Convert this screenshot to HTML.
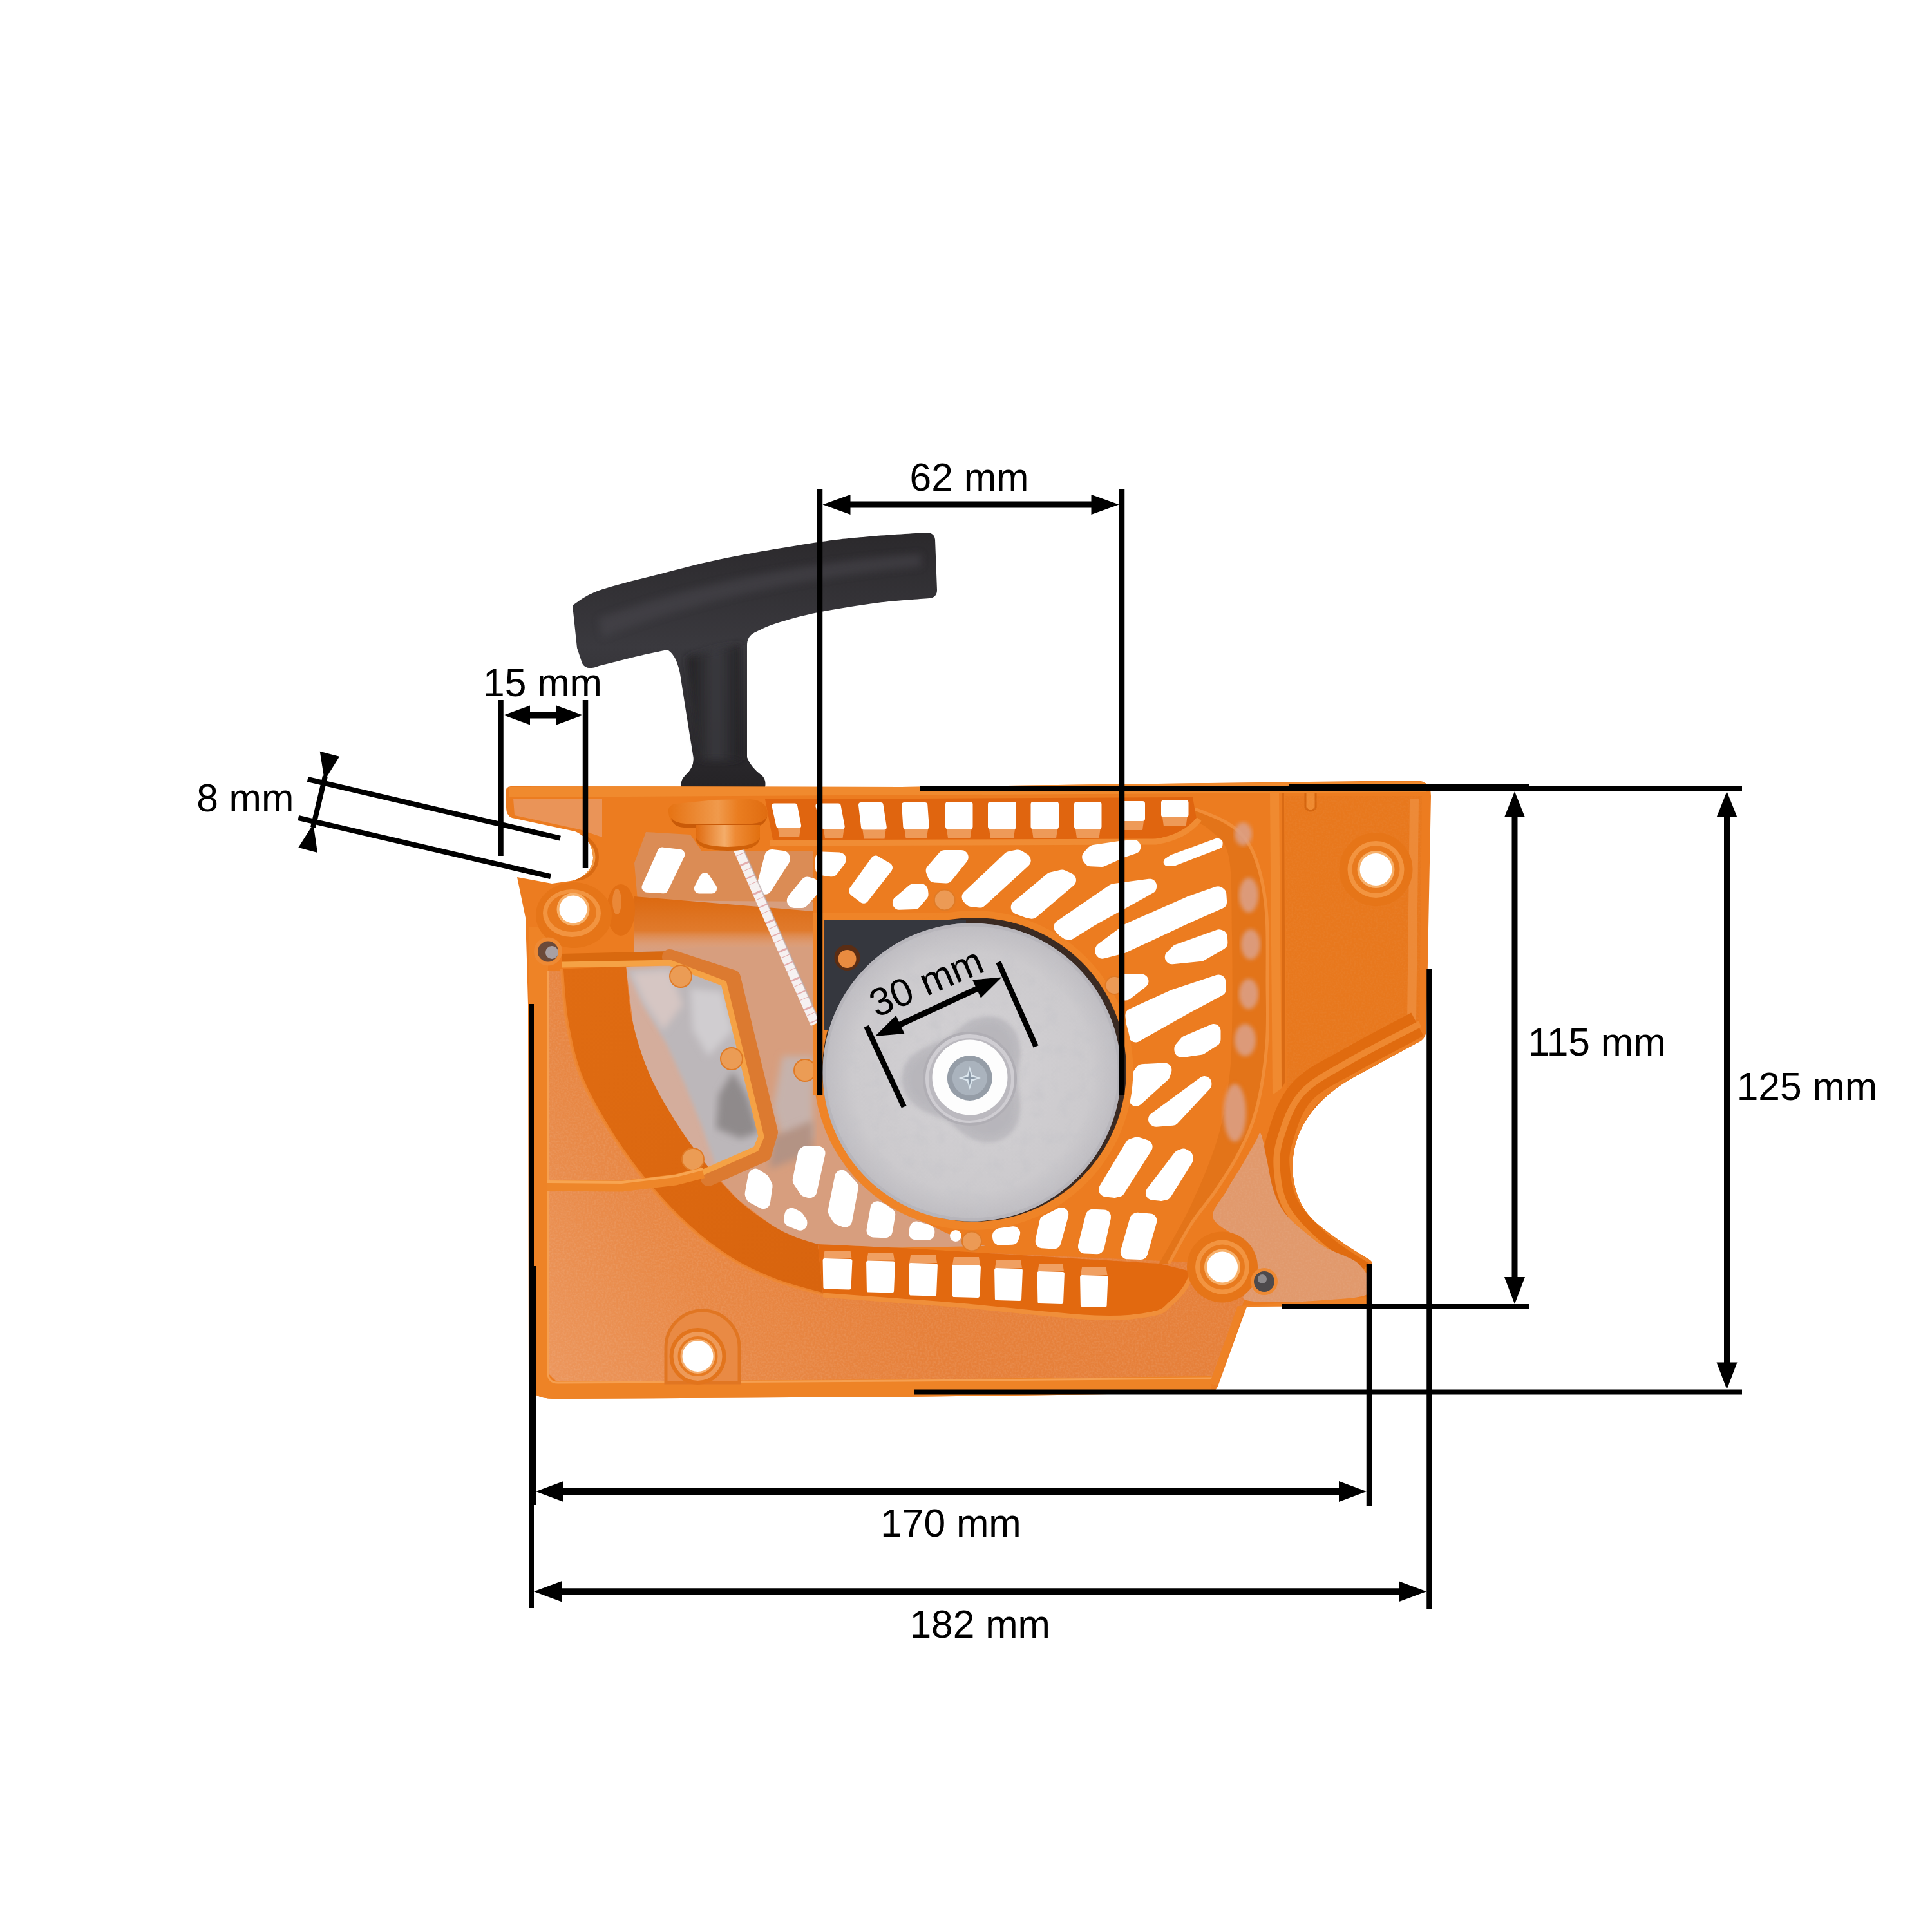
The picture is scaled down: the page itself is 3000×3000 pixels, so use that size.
<!DOCTYPE html>
<html><head><meta charset="utf-8"><title>Starter dimensions</title>
<style>html,body{margin:0;padding:0;background:#fff}svg{display:block}</style></head>
<body>
<svg width="3000" height="3000" viewBox="0 0 3000 3000">
<rect width="3000" height="3000" fill="#fff"/>
<defs>
<linearGradient id="gHandle" x1="0" y1="0" x2="0" y2="1"><stop offset="0" stop-color="#2b292c"/><stop offset="0.45" stop-color="#3a393e"/><stop offset="1" stop-color="#252326"/></linearGradient>
<linearGradient id="gStem" x1="0" y1="0" x2="1" y2="0"><stop offset="0" stop-color="#1f1e20"/><stop offset="0.55" stop-color="#3c3b40"/><stop offset="1" stop-color="#222124"/></linearGradient>
<radialGradient id="gDisc" cx="0.5" cy="0.5" r="0.5"><stop offset="0" stop-color="#d4d2d5"/><stop offset="0.8" stop-color="#cccacd"/><stop offset="1" stop-color="#bebcc1"/></radialGradient>
<linearGradient id="gBand" x1="0" y1="0" x2="1" y2="1"><stop offset="0" stop-color="#e06c12"/><stop offset="1" stop-color="#d8640e"/></linearGradient>
<linearGradient id="gTopBand" x1="0" y1="0" x2="0" y2="1"><stop offset="0" stop-color="#dc6910"/><stop offset="0.6" stop-color="#e07a2c"/><stop offset="1" stop-color="#e4ac8f" stop-opacity="0"/></linearGradient>
<filter id="fTex" x="0" y="0" width="100%" height="100%"><feTurbulence type="fractalNoise" baseFrequency="0.35" numOctaves="2" seed="3" result="n"/><feColorMatrix in="n" type="matrix" values="0 0 0 0 1  0 0 0 0 1  0 0 0 0 1  0.9 0 0 0 -0.32" result="a"/><feComposite in="a" in2="SourceGraphic" operator="in"/></filter>
<filter id="fTexD" x="0" y="0" width="100%" height="100%"><feTurbulence type="fractalNoise" baseFrequency="0.045" numOctaves="3" seed="8" result="n"/><feColorMatrix in="n" type="matrix" values="0 0 0 0 0.55  0 0 0 0 0.55  0 0 0 0 0.58  1.6 0 0 0 -0.75" result="a"/><feComposite in="a" in2="SourceGraphic" operator="in"/></filter>
<filter id="blur3"><feGaussianBlur stdDeviation="3"/></filter>
<filter id="blur6"><feGaussianBlur stdDeviation="6"/></filter>
<filter id="blur12"><feGaussianBlur stdDeviation="12"/></filter>
</defs>
<path d="M889,940 C895.8,936.2 906.5,925.3 930.0,917.0 C953.5,908.7 996.7,898.5 1030.0,890.0 C1063.3,881.5 1090.0,874.0 1130.0,866.0 C1170.0,858.0 1233.3,847.5 1270.0,842.0 C1306.7,836.5 1322.0,835.5 1350.0,833.0 C1378.0,830.5 1423.3,828.0 1438.0,827.0 Q1451,827 1452,838 L1455,916 Q1455,928 1443,929 C1429.7,930.2 1391.8,932.3 1363.0,936.0 C1334.2,939.7 1296.3,945.7 1270.0,951.0 C1243.7,956.3 1221.3,962.8 1205.0,968.0 C1188.7,973.2 1177.5,979.7 1172.0,982.0 Q1160,988 1160,1002 L1160,1176 Q1166,1192 1184,1205 Q1190,1212 1188,1222 L1058,1222 Q1056,1212 1064,1204 Q1080,1190 1076,1172 L1066,1110 L1056,1046 Q1050,1016 1036,1009 C1028.3,1010.7 1007.7,1014.8 990.0,1019.0 C972.3,1023.2 940.0,1031.5 930.0,1034.0 Q910,1042 904,1030 L896,1006 Z" fill="url(#gHandle)"/>
<path d="M1066,1020 L1150,1000 L1150,1180 L1086,1180 Z" fill="url(#gStem)" filter="url(#blur6)" opacity="0.9"/>
<path d="M930,960 Q1150,880 1430,860 L1430,880 Q1150,905 935,990 Z" fill="#48474d" opacity="0.55" filter="url(#blur6)"/>
<path id="sil" d="M793,1221 L1400,1222 L2198,1212 Q2222,1212 2222,1236 L2215,1598 Q2215,1612 2203,1618 L2107,1670 C2060,1695 2025,1730 2012,1775 C2000,1820 2010,1870 2045,1900 C2075,1925 2105,1943 2128,1957 L2131,1960 L2131,2027 L1936,2029 L1892,2150 Q1888,2163 1874,2163 L1404,2169 L860,2172 Q822,2172 821,2146 L820,1560 L818,1490 L816,1425 L803,1362 L857,1372 L886,1368 C905,1365 921,1350 921,1332 C921,1312 910,1298 893,1291 L795,1270 Q786,1266 786,1254 L785,1232 Q785,1221 793,1221 Z" fill="#ec7c20"/>
<clipPath id="cBody"><use href="#sil"/></clipPath>
<g clip-path="url(#cBody)">
<linearGradient id="gFloor" gradientUnits="userSpaceOnUse" x1="1300" y1="1850" x2="860" y2="2140"><stop offset="0" stop-color="#e6803a"/><stop offset="0.5" stop-color="#e88845"/><stop offset="1" stop-color="#ec965c"/></linearGradient>
<path d="M852.0,1508.0 L1000.0,1508.0 L1300.0,1935.0 L1850.0,1960.0 L1945.0,1985.0 L1924.0,2040.0 L1882.0,2140.0 L1404.0,2144.0 L866.0,2147.0 L852.0,2133.0 Z" fill="url(#gFloor)"/>
<path d="M797.0,1240.0 L935.0,1240.0 L935.0,1300.0 L900.0,1288.0 L799.0,1266.0 Z" fill="#ea9458"/>
<path d="M852.0,1508.0 L1000.0,1508.0 L1300.0,1935.0 L1850.0,1960.0 L1945.0,1985.0 L1924.0,2040.0 L1882.0,2140.0 L1404.0,2144.0 L866.0,2147.0 L852.0,2133.0 Z" fill="#fff" filter="url(#fTex)" opacity="0.22"/>
<path d="M1262.0,1395.0 L1262.0,1690.0 L1285.0,1700.0 L1300.0,1760.0 L1340.0,1830.0 L1400.0,1880.0 L1470.0,1915.0 L1530.0,1935.0 L1262.0,1940.0 L1250.0,1940.0 L1195.0,1900.0 L1145.0,1862.0 L1096.0,1807.0 L1052.0,1746.0 L1009.0,1669.0 L982.0,1585.0 L975.0,1450.0 L990.0,1395.0 Z" fill="#d79e7e"/>
<path d="M1003.0,1292.0 L1072.0,1296.0 L1090.0,1322.0 L1262.0,1322.0 L1262.0,1400.0 L990.0,1398.0 L985.0,1340.0 Z" fill="#db8c55"/>
<path d="M1040.0,1500.0 L1125.0,1528.0 L1182.0,1766.0 L1175.0,1783.0 L1092.0,1820.0 L1060.0,1800.0 L1043.0,1770.0 L1010.0,1680.0 L985.0,1605.0 L972.0,1501.0 Z" fill="#d4ad9c"/>
<path d="M974.0,1506.0 L1040.0,1502.0 L1125.0,1528.0 L1182.0,1766.0 L1175.0,1783.0 L1112.0,1812.0 L1089.0,1747.0 L1064.0,1685.0 L1036.0,1623.0 L999.0,1560.0 Z" fill="#bcb7ba" filter="url(#blur3)"/>
<path d="M980.0,1510.0 L1040.0,1506.0 L1060.0,1560.0 L1030.0,1600.0 L1000.0,1555.0 Z" fill="#d6c6c3" filter="url(#blur6)"/>
<path d="M1072.0,1535.0 L1122.0,1540.0 L1138.0,1600.0 L1100.0,1640.0 L1076.0,1600.0 Z" fill="#d0cdd0" filter="url(#blur6)"/>
<path d="M1138.0,1664.0 L1160.0,1700.0 L1178.0,1758.0 L1150.0,1768.0 L1112.0,1752.0 L1116.0,1700.0 Z" fill="#8f8a8b" filter="url(#blur6)"/>
<path d="M1215.0,1640.0 L1262.0,1640.0 L1262.0,1770.0 L1215.0,1770.0 L1200.0,1720.0 Z" fill="#c6b2ac" filter="url(#blur6)"/>
<path d="M1200.0,1765.0 L1262.0,1740.0 L1262.0,1790.0 L1195.0,1815.0 Z" fill="#b39384" filter="url(#blur6)"/>
<path d="M872.0,1500.0 C873.3,1514.2 875.2,1556.8 880.0,1585.0 C884.8,1613.2 890.2,1641.0 901.0,1669.0 C911.8,1697.0 928.2,1725.7 945.0,1753.0 C961.8,1780.3 981.3,1807.8 1002.0,1833.0 C1022.7,1858.2 1046.7,1883.7 1069.0,1904.0 C1091.3,1924.3 1113.5,1941.0 1136.0,1955.0 C1158.5,1969.0 1180.3,1978.8 1204.0,1988.0 C1227.7,1997.2 1265.7,2006.3 1278.0,2010.0 L1270,1932 C1263.8,1930.0 1245.5,1925.3 1233.0,1920.0 C1220.5,1914.7 1209.7,1909.7 1195.0,1900.0 C1180.3,1890.3 1161.5,1877.5 1145.0,1862.0 C1128.5,1846.5 1111.5,1826.3 1096.0,1807.0 C1080.5,1787.7 1066.5,1769.0 1052.0,1746.0 C1037.5,1723.0 1020.7,1695.8 1009.0,1669.0 C997.3,1642.2 988.2,1613.2 982.0,1585.0 C975.8,1556.8 973.7,1514.2 972.0,1500.0 Z" fill="url(#gBand)"/>
<path d="M872.0,1500.0 C873.3,1514.2 875.2,1556.8 880.0,1585.0 C884.8,1613.2 890.2,1641.0 901.0,1669.0 C911.8,1697.0 928.2,1725.7 945.0,1753.0 C961.8,1780.3 981.3,1807.8 1002.0,1833.0 C1022.7,1858.2 1046.7,1883.7 1069.0,1904.0 C1091.3,1924.3 1113.5,1941.0 1136.0,1955.0 C1158.5,1969.0 1180.3,1978.8 1204.0,1988.0 C1227.7,1997.2 1265.7,2006.3 1278.0,2010.0" fill="none" stroke="#ef8a34" stroke-width="5" opacity="0.8"/>
<path d="M985.0,1392.0 L1262.0,1415.0 L1262.0,1470.0 L1100.0,1470.0 L975.0,1480.0 Z" fill="url(#gTopBand)"/>
<path d="M838.0,1430.0 L985.0,1392.0 L985.0,1500.0 L838.0,1506.0 Z" fill="#ec7c20"/>
<path d="M872,1488 L1042,1484" fill="none" stroke="#d9690f" stroke-width="14"/>
<path d="M1040,1486 L1138,1518 L1196,1758 L1186,1792 L1100,1830" fill="none" stroke="#dc7a30" stroke-width="24" stroke-linejoin="round" stroke-linecap="round"/>
<path d="M872,1498 L1040,1495 L1124,1527 L1182,1765 L1174,1784 L1092,1820 L1049,1831" fill="none" stroke="#f5a245" stroke-width="9" stroke-linejoin="round"/>
<circle cx="1057" cy="1516" r="17" fill="#eb9c55" stroke="#e07a25" stroke-width="2"/>
<circle cx="1136" cy="1644" r="17" fill="#eb9c55" stroke="#e07a25" stroke-width="2"/>
<circle cx="1076" cy="1800" r="17" fill="#eb9c55" stroke="#e07a25" stroke-width="2"/>
<circle cx="1250" cy="1662" r="17" fill="#eb9c55" stroke="#e07a25" stroke-width="2"/>
<path d="M1847.0,1253.0 C1856.5,1257.0 1889.0,1268.0 1904.0,1277.0 C1919.0,1286.0 1928.2,1293.7 1937.0,1307.0 C1945.8,1320.3 1952.0,1337.7 1957.0,1357.0 C1962.0,1376.3 1965.2,1395.3 1967.0,1423.0 C1968.8,1450.7 1968.0,1489.7 1968.0,1523.0 C1968.0,1556.3 1969.8,1589.7 1967.0,1623.0 C1964.2,1656.3 1958.2,1695.2 1951.0,1723.0 C1943.8,1750.8 1934.7,1768.8 1924.0,1790.0 C1913.3,1811.2 1899.3,1831.7 1887.0,1850.0 C1874.7,1868.3 1862.0,1881.3 1850.0,1900.0 C1838.0,1918.7 1820.8,1951.7 1815.0,1962.0 L1800,1962  C1808.3,1946.7 1835.0,1902.0 1850.0,1870.0 C1865.0,1838.0 1880.3,1801.7 1890.0,1770.0 C1899.7,1738.3 1904.2,1708.3 1908.0,1680.0 C1911.8,1651.7 1912.2,1638.3 1913.0,1600.0 C1913.8,1561.7 1913.8,1495.0 1913.0,1450.0 C1912.2,1405.0 1913.5,1356.7 1908.0,1330.0 C1902.5,1303.3 1890.2,1300.0 1880.0,1290.0 C1869.8,1280.0 1852.5,1273.3 1847.0,1270.0 Z" fill="#e37419"/>
<path d="M1847.0,1253.0 C1856.5,1257.0 1889.0,1268.0 1904.0,1277.0 C1919.0,1286.0 1928.2,1293.7 1937.0,1307.0 C1945.8,1320.3 1952.0,1337.7 1957.0,1357.0 C1962.0,1376.3 1965.2,1395.3 1967.0,1423.0 C1968.8,1450.7 1968.0,1489.7 1968.0,1523.0 C1968.0,1556.3 1969.8,1589.7 1967.0,1623.0 C1964.2,1656.3 1958.2,1695.2 1951.0,1723.0 C1943.8,1750.8 1934.7,1768.8 1924.0,1790.0 C1913.3,1811.2 1899.3,1831.7 1887.0,1850.0 C1874.7,1868.3 1862.0,1881.3 1850.0,1900.0 C1838.0,1918.7 1820.8,1951.7 1815.0,1962.0" fill="none" stroke="#f08d38" stroke-width="5"/>
<ellipse cx="1930.5" cy="1295.0" rx="13.5" ry="18.0" fill="#dba18a" opacity="0.85" filter="url(#blur3)"/>
<ellipse cx="1939.0" cy="1390.0" rx="15.0" ry="27.0" fill="#dba18a" opacity="0.85" filter="url(#blur3)"/>
<ellipse cx="1942.0" cy="1466.5" rx="15.0" ry="23.5" fill="#dba18a" opacity="0.85" filter="url(#blur3)"/>
<ellipse cx="1939.0" cy="1543.5" rx="15.0" ry="23.5" fill="#dba18a" opacity="0.85" filter="url(#blur3)"/>
<ellipse cx="1933.5" cy="1615.0" rx="16.5" ry="25.0" fill="#dba18a" opacity="0.85" filter="url(#blur3)"/>
<ellipse cx="1917.5" cy="1728.0" rx="17.5" ry="45.0" fill="#dba18a" opacity="0.85" filter="url(#blur3)"/>
<path d="M1972,1232 L1986,1232 L1990,1690 L1976,1700 Z" fill="#f08a30"/>
<path d="M1990,1232 L1994,1232 L1996,1680 L1990,1690 Z" fill="#d96a14"/>
<path d="M1996.0,1236.0 L2208.0,1236.0 L2204.0,1600.0 L2100.0,1655.0 L2040.0,1690.0 L1998.0,1740.0 Z" fill="#e8781d"/>
<path d="M2027,1232 L2027,1254 Q2035,1264 2043,1254 L2043,1232" fill="#ef8a30" stroke="#d5650e" stroke-width="3"/>
<path d="M1996.0,1236.0 L2208.0,1236.0 L2204.0,1600.0 L2100.0,1655.0 L2040.0,1690.0 L1998.0,1740.0 Z" fill="#fff" filter="url(#fTex)" opacity="0.10"/>
<path d="M2196,1240 L2192,1590" stroke="#f09244" stroke-width="14" opacity="0.7"/>
<path d="M2213.0,1613.0 C2195.3,1622.5 2135.8,1653.3 2107.0,1670.0 C2078.2,1686.7 2055.8,1695.5 2040.0,1713.0 C2024.2,1730.5 2017.3,1758.0 2012.0,1775.0 C2006.7,1792.0 2006.3,1799.8 2008.0,1815.0 C2009.7,1830.2 2011.2,1848.5 2022.0,1866.0 C2032.8,1883.5 2055.3,1904.8 2073.0,1920.0 C2090.7,1935.2 2118.8,1950.8 2128.0,1957.0" fill="none" stroke="#e06b0f" stroke-width="92"/>
<path d="M2205.0,1590.0 C2187.0,1599.5 2127.5,1629.2 2097.0,1647.0 C2066.5,1664.8 2040.0,1677.3 2022.0,1697.0 C2004.0,1716.7 1995.5,1744.8 1989.0,1765.0 C1982.5,1785.2 1981.3,1799.2 1983.0,1818.0 C1984.7,1836.8 1987.0,1858.0 1999.0,1878.0 C2011.0,1898.0 2035.2,1921.7 2055.0,1938.0 C2074.8,1954.3 2107.5,1969.7 2118.0,1976.0" fill="none" stroke="#ee8830" stroke-width="10"/>
<path d="M2213.0,1613.0 C2195.3,1622.5 2135.8,1653.3 2107.0,1670.0 C2078.2,1686.7 2055.8,1695.5 2040.0,1713.0 C2024.2,1730.5 2017.3,1758.0 2012.0,1775.0 C2006.7,1792.0 2006.3,1799.8 2008.0,1815.0 C2009.7,1830.2 2011.2,1848.5 2022.0,1866.0 C2032.8,1883.5 2055.3,1904.8 2073.0,1920.0 C2090.7,1935.2 2118.8,1950.8 2128.0,1957.0" fill="none" stroke="#ec7f24" stroke-width="10"/>
<path d="M1958.0,1761.0 C1960.8,1765.7 1963.7,1785.2 1967.0,1800.0 C1970.3,1814.8 1973.0,1835.7 1978.0,1850.0 C1983.0,1864.3 1987.8,1874.5 1997.0,1886.0 C2006.2,1897.5 2022.5,1910.3 2033.0,1919.0 C2043.5,1927.7 2046.8,1930.3 2060.0,1938.0 C2073.2,1945.7 2102.3,1952.7 2112.0,1965.0 C2121.7,1977.3 2146.7,2002.8 2118.0,2012.0 C2089.3,2021.2 1967.7,2024.5 1940.0,2020.0 C1912.3,2015.5 1953.7,2000.0 1952.0,1985.0 C1950.3,1970.0 1941.3,1945.5 1930.0,1930.0 C1918.7,1914.5 1888.3,1905.3 1884.0,1892.0 C1879.7,1878.7 1896.3,1864.2 1904.0,1850.0 C1911.7,1835.8 1922.3,1820.0 1930.0,1807.0 C1937.7,1794.0 1945.3,1779.7 1950.0,1772.0 C1954.7,1764.3 1955.2,1756.3 1958.0,1761.0 Z" fill="#e1996c"/>
<path d="M1958.0,1761.0 C1960.8,1765.7 1963.7,1785.2 1967.0,1800.0 C1970.3,1814.8 1973.0,1835.7 1978.0,1850.0 C1983.0,1864.3 1987.8,1874.5 1997.0,1886.0 C2006.2,1897.5 2022.5,1910.3 2033.0,1919.0 C2043.5,1927.7 2046.8,1930.3 2060.0,1938.0 C2073.2,1945.7 2102.3,1952.7 2112.0,1965.0 C2121.7,1977.3 2146.7,2002.8 2118.0,2012.0 C2089.3,2021.2 1967.7,2024.5 1940.0,2020.0 C1912.3,2015.5 1953.7,2000.0 1952.0,1985.0 C1950.3,1970.0 1941.3,1945.5 1930.0,1930.0 C1918.7,1914.5 1888.3,1905.3 1884.0,1892.0 C1879.7,1878.7 1896.3,1864.2 1904.0,1850.0 C1911.7,1835.8 1922.3,1820.0 1930.0,1807.0 C1937.7,1794.0 1945.3,1779.7 1950.0,1772.0 C1954.7,1764.3 1955.2,1756.3 1958.0,1761.0 Z" fill="#fff" filter="url(#fTex)" opacity="0.15"/>
<path d="M893,1302 A29,29 0 0 1 893,1360" fill="none" stroke="#d96a12" stroke-width="16"/>
<path d="M893,1304 A27,27 0 0 1 893,1358" fill="none" stroke="#f29a45" stroke-width="9"/>
<path d="M836,1440 L836,2140 Q836,2160 866,2160 L1404,2157 L1880,2152" fill="none" stroke="#ee8326" stroke-width="30"/>
<path d="M851,1508 L851,2133 Q852,2147 866,2147 L1404,2144 L1882,2140" fill="none" stroke="#f5a052" stroke-width="3"/>
<path d="M1884,2150 L1926,2034 L2124,2020" fill="none" stroke="#ee8226" stroke-width="12"/>
<path d="M790,1230 L2215,1222" fill="none" stroke="#f08a2e" stroke-width="16"/>
<path d="M850,1841 L965,1842 L1049,1832 L1092,1821" stroke="#ee8629" stroke-width="17" fill="none" stroke-linejoin="round"/>
<path d="M850,1835 L965,1836 L1049,1826 L1092,1815" stroke="#f7a552" stroke-width="4" fill="none" stroke-linejoin="round"/>
</g>
<path d="M1188,1241 L1852,1238 L1858,1272 Q1830,1300 1790,1303 L1200,1304 Z" fill="#e0650f"/>
<path d="M1196,1309 L1795,1307 Q1840,1300 1862,1272" fill="none" stroke="#f08c34" stroke-width="9"/>
<path d="M1270.0,1932.0 C1291.7,1933.0 1361.2,1936.0 1400.0,1938.0 C1438.8,1940.0 1461.3,1941.5 1503.0,1944.0 C1544.7,1946.5 1600.5,1950.0 1650.0,1953.0 C1699.5,1956.0 1775.0,1960.5 1800.0,1962.0 L1852,1975  C1850.0,1979.2 1845.7,1991.8 1840.0,2000.0 C1834.3,2008.2 1826.3,2017.3 1818.0,2024.0 C1809.7,2030.7 1809.7,2036.3 1790.0,2040.0 C1770.3,2043.7 1747.8,2048.0 1700.0,2046.0 C1652.2,2044.0 1553.0,2032.3 1503.0,2028.0 C1453.0,2023.7 1437.5,2022.8 1400.0,2020.0 C1362.5,2017.2 1298.3,2012.5 1278.0,2011.0 Z" fill="#e2690f"/>
<path d="M1278.0,2011.0 C1298.3,2012.5 1362.5,2017.2 1400.0,2020.0 C1437.5,2022.8 1453.0,2023.7 1503.0,2028.0 C1553.0,2032.3 1652.2,2044.0 1700.0,2046.0 C1747.8,2048.0 1770.3,2043.7 1790.0,2040.0 C1809.7,2036.3 1809.7,2030.7 1818.0,2024.0 C1826.3,2017.3 1834.3,2008.2 1840.0,2000.0 C1845.7,1991.8 1850.0,1979.2 1852.0,1975.0" fill="none" stroke="#f08f3a" stroke-width="7"/>
<path d="M1208.0,1286.0 L1243.0,1286.0 L1241.0,1300.0 L1210.0,1300.0 Z" fill="#ee9a58"/>
<path d="M1202.5,1251.5 L1209.2,1282.0 L1240.1,1282.0 L1234.2,1251.5 Z" fill="#fff" stroke="#fff" stroke-width="8.0" stroke-linejoin="round"/>
<path d="M1279.0,1287.5 L1310.5,1287.5 L1308.5,1301.5 L1281.0,1301.5 Z" fill="#ee9a58"/>
<path d="M1270.4,1251.5 L1280.0,1283.5 L1307.7,1283.5 L1301.7,1251.5 Z" fill="#fff" stroke="#fff" stroke-width="8.0" stroke-linejoin="round"/>
<path d="M1339.5,1288.5 L1375.5,1288.5 L1373.5,1302.5 L1341.5,1302.5 Z" fill="#ee9a58"/>
<path d="M1337.0,1250.0 L1341.1,1284.5 L1372.8,1284.5 L1367.6,1250.0 Z" fill="#fff" stroke="#fff" stroke-width="8.0" stroke-linejoin="round"/>
<path d="M1404.5,1287.5 L1441.0,1287.5 L1439.0,1301.5 L1406.5,1301.5 Z" fill="#ee9a58"/>
<path d="M1404.2,1250.0 L1406.3,1283.5 L1438.7,1283.5 L1436.3,1250.0 Z" fill="#fff" stroke="#fff" stroke-width="8.0" stroke-linejoin="round"/>
<path d="M1470.0,1287.5 L1508.5,1287.5 L1506.5,1301.5 L1472.0,1301.5 Z" fill="#ee9a58"/>
<path d="M1472.0,1249.0 L1472.0,1283.5 L1506.5,1283.5 L1506.5,1249.0 Z" fill="#fff" stroke="#fff" stroke-width="8.0" stroke-linejoin="round"/>
<path d="M1536.0,1287.5 L1576.0,1287.5 L1574.0,1301.5 L1538.0,1301.5 Z" fill="#ee9a58"/>
<path d="M1538.0,1249.0 L1538.0,1283.5 L1574.0,1283.5 L1574.0,1249.0 Z" fill="#fff" stroke="#fff" stroke-width="8.0" stroke-linejoin="round"/>
<path d="M1602.5,1287.5 L1642.0,1287.5 L1640.0,1301.5 L1604.5,1301.5 Z" fill="#ee9a58"/>
<path d="M1604.5,1249.0 L1604.5,1283.5 L1640.0,1283.5 L1640.0,1249.0 Z" fill="#fff" stroke="#fff" stroke-width="8.0" stroke-linejoin="round"/>
<path d="M1670.0,1287.5 L1708.5,1287.5 L1706.5,1301.5 L1672.0,1301.5 Z" fill="#ee9a58"/>
<path d="M1672.0,1249.0 L1672.0,1283.5 L1706.5,1283.5 L1706.5,1249.0 Z" fill="#fff" stroke="#fff" stroke-width="8.0" stroke-linejoin="round"/>
<path d="M1739.0,1275.0 L1776.0,1275.0 L1774.0,1289.0 L1741.0,1289.0 Z" fill="#ee9a58"/>
<path d="M1741.0,1248.0 L1741.0,1271.0 L1774.0,1271.0 L1774.0,1248.0 Z" fill="#fff" stroke="#fff" stroke-width="8.0" stroke-linejoin="round"/>
<path d="M1805.0,1269.0 L1843.5,1269.0 L1841.5,1283.0 L1807.0,1283.0 Z" fill="#ee9a58"/>
<path d="M1807.0,1246.5 L1807.0,1265.0 L1841.5,1265.0 L1841.5,1246.5 Z" fill="#fff" stroke="#fff" stroke-width="8.0" stroke-linejoin="round"/>
<path d="M1280.5,1942.0 L1320.5,1942.0 L1322.5,1954.0 L1278.5,1954.0 Z" fill="#f0a062"/>
<path d="M1280.6,1957.1 L1281.4,1998.6 L1318.6,1999.4 L1320.4,1957.9 Z" fill="#fff" stroke="#fff" stroke-width="6.0" stroke-linejoin="round"/>
<path d="M1348.0,1945.5 L1387.0,1945.5 L1389.0,1957.5 L1346.0,1957.5 Z" fill="#f0a062"/>
<path d="M1348.1,1960.6 L1348.9,2003.6 L1385.1,2004.4 L1386.9,1961.4 Z" fill="#fff" stroke="#fff" stroke-width="6.0" stroke-linejoin="round"/>
<path d="M1414.0,1949.0 L1453.0,1949.0 L1455.0,1961.0 L1412.0,1961.0 Z" fill="#f0a062"/>
<path d="M1414.1,1964.1 L1414.9,2008.6 L1451.1,2009.4 L1452.9,1964.9 Z" fill="#fff" stroke="#fff" stroke-width="6.0" stroke-linejoin="round"/>
<path d="M1481.0,1952.0 L1520.0,1952.0 L1522.0,1964.0 L1479.0,1964.0 Z" fill="#f0a062"/>
<path d="M1481.1,1967.1 L1481.9,2011.1 L1518.1,2011.9 L1519.9,1967.9 Z" fill="#fff" stroke="#fff" stroke-width="6.0" stroke-linejoin="round"/>
<path d="M1547.0,1957.0 L1585.0,1957.0 L1587.0,1969.0 L1545.0,1969.0 Z" fill="#f0a062"/>
<path d="M1547.1,1972.1 L1547.9,2016.1 L1583.1,2016.9 L1584.9,1972.9 Z" fill="#fff" stroke="#fff" stroke-width="6.0" stroke-linejoin="round"/>
<path d="M1613.5,1962.0 L1650.0,1962.0 L1652.0,1974.0 L1611.5,1974.0 Z" fill="#f0a062"/>
<path d="M1613.6,1977.1 L1614.4,2021.1 L1648.1,2021.9 L1649.9,1977.9 Z" fill="#fff" stroke="#fff" stroke-width="6.0" stroke-linejoin="round"/>
<path d="M1680.0,1968.0 L1717.5,1968.0 L1719.5,1980.0 L1678.0,1980.0 Z" fill="#f0a062"/>
<path d="M1680.1,1983.1 L1680.9,2026.1 L1715.6,2026.9 L1717.4,1983.9 Z" fill="#fff" stroke="#fff" stroke-width="6.0" stroke-linejoin="round"/>
<path d="M1028.7,1323.6 L1004.5,1377.7 L1030.1,1379.2 L1055.4,1326.7 Z" fill="#fff" stroke="#fff" stroke-width="16.0" stroke-linejoin="round"/>
<path d="M1094.5,1363.2 L1085.8,1379.5 L1105.2,1379.5 Z" fill="#fff" stroke="#fff" stroke-width="16.0" stroke-linejoin="round"/>
<path d="M1198.2,1330.0 L1185.7,1377.4 L1187.8,1377.8 L1215.8,1334.1 L1215.6,1331.9 Z" fill="#fff" stroke="#fff" stroke-width="22.0" stroke-linejoin="round"/>
<path d="M1232.8,1398.0 L1233.0,1399.0 L1245.0,1399.0 L1260.6,1381.4 L1259.8,1374.4 L1253.8,1372.6 Z" fill="#fff" stroke="#fff" stroke-width="22.0" stroke-linejoin="round"/>
<path d="M1277.0,1333.5 L1277.0,1348.4 L1291.1,1350.3 L1303.0,1334.6 Z" fill="#fff" stroke="#fff" stroke-width="22.0" stroke-linejoin="round"/>
<path d="M1359.7,1336.6 L1326.0,1383.4 L1341.1,1394.8 L1378.1,1347.3 Z" fill="#fff" stroke="#fff" stroke-width="16.0" stroke-linejoin="round"/>
<path d="M1396.9,1401.8 L1419.8,1401.1 L1430.6,1388.4 L1430.0,1383.0 L1419.0,1383.0 Z" fill="#fff" stroke="#fff" stroke-width="22.0" stroke-linejoin="round"/>
<path d="M1448.7,1352.1 L1451.6,1359.5 L1469.0,1360.6 L1492.7,1331.0 L1467.0,1331.0 Z" fill="#fff" stroke="#fff" stroke-width="22.0" stroke-linejoin="round"/>
<path d="M1504.5,1393.0 L1508.3,1397.0 L1521.7,1398.5 L1589.7,1336.1 L1580.7,1330.4 L1568.2,1332.7 Z" fill="#fff" stroke="#fff" stroke-width="22.0" stroke-linejoin="round"/>
<path d="M1580.7,1408.8 L1596.0,1414.4 L1602.4,1415.7 L1660.0,1366.6 L1649.2,1361.6 L1633.0,1365.2 Z" fill="#fff" stroke="#fff" stroke-width="22.0" stroke-linejoin="round"/>
<path d="M1647.4,1439.3 L1655.4,1447.7 L1660.6,1448.5 L1694.4,1427.5 L1785.0,1377.0 L1785.2,1375.7 L1729.5,1383.1 Z" fill="#fff" stroke="#fff" stroke-width="22.0" stroke-linejoin="round"/>
<path d="M1691.1,1330.8 L1693.7,1334.2 L1710.9,1334.9 L1742.8,1320.7 L1760.4,1314.9 L1739.3,1316.9 L1698.4,1322.8 Z" fill="#fff" stroke="#fff" stroke-width="22.0" stroke-linejoin="round"/>
<path d="M1813.2,1338.5 L1821.8,1338.5 L1891.9,1311.4 L1892.1,1309.0 L1890.2,1308.1 L1821.0,1333.4 Z" fill="#fff" stroke="#fff" stroke-width="13.1" stroke-linejoin="round"/>
<path d="M1711.0,1476.4 L1712.0,1477.6 L1743.0,1469.6 L1838.5,1425.0 L1894.1,1400.5 L1893.3,1388.5 L1891.4,1387.2 L1847.0,1402.7 L1752.3,1444.6 L1711.8,1474.7 Z" fill="#fff" stroke="#fff" stroke-width="22.0" stroke-linejoin="round"/>
<path d="M1819.8,1486.3 L1819.8,1486.3 L1864.5,1481.8 L1895.4,1463.9 L1894.9,1455.1 L1892.8,1454.3 L1829.0,1477.0 Z" fill="#fff" stroke="#fff" stroke-width="22.0" stroke-linejoin="round"/>
<path d="M1748.0,1523.5 L1748.0,1542.6 L1772.5,1523.5 Z" fill="#fff" stroke="#fff" stroke-width="22.0" stroke-linejoin="round"/>
<path d="M1759.9,1593.2 L1763.3,1607.5 L1837.7,1565.4 L1892.7,1536.0 L1892.3,1524.4 L1892.2,1524.4 L1822.0,1547.8 L1758.4,1576.8 Z" fill="#fff" stroke="#fff" stroke-width="22.0" stroke-linejoin="round"/>
<path d="M1834.3,1628.6 L1834.5,1630.7 L1835.1,1631.1 L1864.1,1626.9 L1884.5,1614.0 L1884.5,1601.0 L1842.3,1619.1 Z" fill="#fff" stroke="#fff" stroke-width="22.0" stroke-linejoin="round"/>
<path d="M1764.0,1706.8 L1806.0,1668.8 L1808.4,1661.4 L1773.8,1663.2 L1769.4,1669.4 L1764.0,1700.9 Z" fill="#fff" stroke="#fff" stroke-width="22.0" stroke-linejoin="round"/>
<path d="M1794.0,1738.1 L1794.0,1738.2 L1795.2,1738.8 L1820.4,1736.9 L1870.4,1683.5 L1870.3,1682.0 Z" fill="#fff" stroke="#fff" stroke-width="22.0" stroke-linejoin="round"/>
<path d="M1717.1,1847.0 L1717.2,1847.5 L1730.0,1848.9 L1736.2,1847.6 L1778.6,1780.7 L1765.6,1776.6 L1757.8,1779.1 Z" fill="#fff" stroke="#fff" stroke-width="22.0" stroke-linejoin="round"/>
<path d="M1789.9,1852.5 L1802.5,1853.9 L1808.7,1852.6 L1841.7,1799.9 L1841.4,1796.9 L1837.3,1794.6 L1832.4,1796.6 Z" fill="#fff" stroke="#fff" stroke-width="22.0" stroke-linejoin="round"/>
<path d="M1618.6,1927.2 L1636.5,1928.6 L1648.2,1886.0 L1648.2,1885.9 L1625.1,1897.5 Z" fill="#fff" stroke="#fff" stroke-width="22.0" stroke-linejoin="round"/>
<path d="M1684.8,1935.6 L1703.7,1936.3 L1714.2,1889.4 L1696.7,1888.7 L1696.5,1888.8 Z" fill="#fff" stroke="#fff" stroke-width="22.0" stroke-linejoin="round"/>
<path d="M1750.9,1944.3 L1771.2,1945.1 L1785.4,1895.4 L1765.9,1893.8 L1765.0,1894.4 Z" fill="#fff" stroke="#fff" stroke-width="22.0" stroke-linejoin="round"/>
<path d="M1551.3,1918.9 L1551.7,1922.8 L1552.1,1923.2 L1571.4,1922.4 L1573.8,1914.6 L1552.9,1917.4 Z" fill="#fff" stroke="#fff" stroke-width="20.8" stroke-linejoin="round"/>
<path d="M1167.6,1854.0 L1168.9,1857.3 L1185.1,1866.2 L1188.6,1841.8 L1184.0,1832.7 L1173.1,1825.8 L1172.6,1826.2 Z" fill="#fff" stroke="#fff" stroke-width="22.0" stroke-linejoin="round"/>
<path d="M1241.7,1832.7 L1251.8,1847.9 L1257.2,1849.2 L1257.6,1849.0 L1270.5,1790.7 L1252.9,1789.9 L1249.9,1791.8 Z" fill="#fff" stroke="#fff" stroke-width="22.0" stroke-linejoin="round"/>
<path d="M1227.4,1893.6 L1227.7,1894.1 L1242.7,1900.1 L1242.9,1897.9 L1237.8,1890.8 L1229.0,1886.3 Z" fill="#fff" stroke="#fff" stroke-width="21.2" stroke-linejoin="round"/>
<path d="M1296.6,1880.6 L1302.6,1891.1 L1312.2,1894.7 L1312.3,1894.6 L1321.9,1843.4 L1312.1,1832.6 L1307.2,1827.7 Z" fill="#fff" stroke="#fff" stroke-width="22.0" stroke-linejoin="round"/>
<path d="M1356.5,1910.5 L1356.5,1910.5 L1374.9,1911.3 L1379.2,1886.3 L1369.5,1879.6 L1362.5,1876.4 Z" fill="#fff" stroke="#fff" stroke-width="22.0" stroke-linejoin="round"/>
<path d="M1421.9,1914.3 L1440.1,1915.0 L1440.5,1912.7 L1440.3,1912.6 L1423.4,1907.5 Z" fill="#fff" stroke="#fff" stroke-width="22.0" stroke-linejoin="round"/>
<circle cx="1484" cy="1919" r="9" fill="#fff"/>
<path d="M1262,1418 L1500,1418 L1500,1440 L1280,1440 L1280,1700 L1262,1700 Z" fill="#ef8428"/>
<circle cx="1511.5" cy="1662" r="248" fill="#ef8427"/>
<circle cx="1513" cy="1661" r="236" fill="#3a2a22"/>
<path d="M1279,1428 L1500,1428 L1500,1600 L1279,1600 Z" fill="#35373e"/>
<circle cx="1315.5" cy="1487" r="20" fill="#5a2d14"/><circle cx="1315.5" cy="1489" r="14" fill="#e98b40"/>
<circle cx="1509" cy="1665" r="231.5" fill="url(#gDisc)"/>
<circle cx="1509" cy="1665" r="231.5" fill="#9a989e" filter="url(#fTexD)" opacity="0.6"/>
<circle cx="1509" cy="1665" r="229" fill="none" stroke="#b4b2b8" stroke-width="5" opacity="0.7"/>
<path d="M1576.0,1676.0 C1576.0,1680.2 1576.5,1684.1 1577.0,1688.5 C1577.6,1693.0 1578.7,1697.6 1579.3,1702.7 C1579.9,1707.8 1580.7,1713.4 1580.5,1719.0 C1580.3,1724.6 1579.7,1730.8 1578.0,1736.4 C1576.3,1742.0 1573.7,1747.8 1570.2,1752.5 C1566.7,1757.1 1562.0,1761.4 1557.0,1764.3 C1552.0,1767.2 1545.9,1769.1 1540.2,1769.8 C1534.4,1770.5 1528.0,1769.9 1522.3,1768.6 C1516.6,1767.3 1511.0,1764.6 1506.0,1762.0 C1501.0,1759.4 1496.6,1755.8 1492.5,1752.8 C1488.3,1749.8 1484.9,1746.5 1481.3,1743.8 C1477.7,1741.1 1474.6,1738.7 1471.0,1736.6 C1467.4,1734.5 1463.8,1733.0 1459.6,1731.3 C1455.5,1729.5 1450.9,1728.2 1446.2,1726.1 C1441.6,1724.1 1436.3,1722.0 1431.5,1719.0 C1426.8,1716.0 1421.6,1712.4 1417.7,1708.1 C1413.7,1703.9 1409.9,1698.7 1407.7,1693.3 C1405.4,1688.0 1404.0,1681.8 1404.0,1676.0 C1404.0,1670.2 1405.4,1664.0 1407.7,1658.7 C1409.9,1653.3 1413.7,1648.1 1417.7,1643.9 C1421.6,1639.6 1426.8,1636.0 1431.5,1633.0 C1436.3,1630.0 1441.6,1627.9 1446.2,1625.9 C1450.9,1623.8 1455.5,1622.5 1459.6,1620.7 C1463.8,1619.0 1467.4,1617.5 1471.0,1615.4 C1474.6,1613.3 1477.7,1610.9 1481.3,1608.2 C1484.9,1605.5 1488.3,1602.2 1492.5,1599.2 C1496.6,1596.2 1501.0,1592.6 1506.0,1590.0 C1511.0,1587.4 1516.6,1584.7 1522.3,1583.4 C1528.0,1582.1 1534.4,1581.5 1540.2,1582.2 C1545.9,1582.9 1552.0,1584.8 1557.0,1587.7 C1562.0,1590.6 1566.7,1594.9 1570.2,1599.5 C1573.7,1604.2 1576.3,1610.0 1578.0,1615.6 C1579.7,1621.2 1580.3,1627.4 1580.5,1633.0 C1580.7,1638.6 1579.9,1644.2 1579.3,1649.3 C1578.7,1654.4 1577.6,1659.0 1577.0,1663.5 C1576.5,1667.9 1576.0,1671.8 1576.0,1676.0 Z" fill="#b4b2b8" filter="url(#blur6)" opacity="0.85"/>
<path d="M1576.0,1676.0 C1576.0,1680.2 1576.5,1684.1 1577.0,1688.5 C1577.6,1693.0 1578.7,1697.6 1579.3,1702.7 C1579.9,1707.8 1580.7,1713.4 1580.5,1719.0 C1580.3,1724.6 1579.7,1730.8 1578.0,1736.4 C1576.3,1742.0 1573.7,1747.8 1570.2,1752.5 C1566.7,1757.1 1562.0,1761.4 1557.0,1764.3 C1552.0,1767.2 1545.9,1769.1 1540.2,1769.8 C1534.4,1770.5 1528.0,1769.9 1522.3,1768.6 C1516.6,1767.3 1511.0,1764.6 1506.0,1762.0 C1501.0,1759.4 1496.6,1755.8 1492.5,1752.8 C1488.3,1749.8 1484.9,1746.5 1481.3,1743.8 C1477.7,1741.1 1474.6,1738.7 1471.0,1736.6 C1467.4,1734.5 1463.8,1733.0 1459.6,1731.3 C1455.5,1729.5 1450.9,1728.2 1446.2,1726.1 C1441.6,1724.1 1436.3,1722.0 1431.5,1719.0 C1426.8,1716.0 1421.6,1712.4 1417.7,1708.1 C1413.7,1703.9 1409.9,1698.7 1407.7,1693.3 C1405.4,1688.0 1404.0,1681.8 1404.0,1676.0 C1404.0,1670.2 1405.4,1664.0 1407.7,1658.7 C1409.9,1653.3 1413.7,1648.1 1417.7,1643.9 C1421.6,1639.6 1426.8,1636.0 1431.5,1633.0 C1436.3,1630.0 1441.6,1627.9 1446.2,1625.9 C1450.9,1623.8 1455.5,1622.5 1459.6,1620.7 C1463.8,1619.0 1467.4,1617.5 1471.0,1615.4 C1474.6,1613.3 1477.7,1610.9 1481.3,1608.2 C1484.9,1605.5 1488.3,1602.2 1492.5,1599.2 C1496.6,1596.2 1501.0,1592.6 1506.0,1590.0 C1511.0,1587.4 1516.6,1584.7 1522.3,1583.4 C1528.0,1582.1 1534.4,1581.5 1540.2,1582.2 C1545.9,1582.9 1552.0,1584.8 1557.0,1587.7 C1562.0,1590.6 1566.7,1594.9 1570.2,1599.5 C1573.7,1604.2 1576.3,1610.0 1578.0,1615.6 C1579.7,1621.2 1580.3,1627.4 1580.5,1633.0 C1580.7,1638.6 1579.9,1644.2 1579.3,1649.3 C1578.7,1654.4 1577.6,1659.0 1577.0,1663.5 C1576.5,1667.9 1576.0,1671.8 1576.0,1676.0 Z" fill="none" stroke="#aeacb2" stroke-width="3" filter="url(#blur3)" opacity="0.8"/>
<circle cx="1506" cy="1675" r="71" fill="#cfcdd2" stroke="#b0aeb4" stroke-width="4"/>
<circle cx="1506" cy="1676" r="64" fill="#bbb9bf"/>
<circle cx="1506" cy="1673" r="58.5" fill="#fdfdfd"/>
<circle cx="1505.8" cy="1674" r="35" fill="#959da7"/>
<circle cx="1505.8" cy="1674" r="27" fill="#aab3bd"/>
<path d="M1505.8,1656 L1510,1669.5 L1523,1674 L1510,1678.5 L1505.8,1692 L1501.5,1678.5 L1488.5,1674 L1501.5,1669.5 Z" fill="#dbe6ee"/>
<path d="M1505.8,1662 L1508,1672 L1517,1674 L1508,1676 L1505.8,1686 L1503.5,1676 L1494.5,1674 L1503.5,1672 Z" fill="#8a98a6"/>
<ellipse cx="964" cy="1413" rx="22" ry="40" fill="#e26f14"/><ellipse cx="958" cy="1400" rx="7" ry="20" fill="#f09a50" opacity="0.6"/>
<ellipse cx="891" cy="1421" rx="59" ry="51" fill="#e67518"/>
<ellipse cx="888" cy="1418" rx="45" ry="37" fill="#f29440"/>
<ellipse cx="888" cy="1417" rx="38" ry="30" fill="#e87a1e"/>
<circle cx="890" cy="1412" r="25.5" fill="#f7b06a"/>
<circle cx="890" cy="1412" r="21.5" fill="#fff"/>
<path d="M1034,2147 L1034,2092 A57,57 0 0 1 1148,2092 L1148,2147 Z" fill="#e98a44" stroke="#e17622" stroke-width="5"/>
<circle cx="1083.5" cy="2106" r="41" fill="#ee9a58" stroke="#e2741c" stroke-width="6"/>
<circle cx="1083.5" cy="2106" r="29" fill="#f4ad6e" stroke="#e67a22" stroke-width="4"/>
<circle cx="1083.5" cy="2106" r="24" fill="#fff"/>
<circle cx="1898" cy="1967.5" r="55" fill="#e67518"/>
<circle cx="1898" cy="1967.5" r="42" fill="#f29440"/>
<circle cx="1898" cy="1967.5" r="35" fill="#e87a1e"/>
<circle cx="1898" cy="1967.5" r="28" fill="#f7b06a"/>
<circle cx="1898" cy="1967.5" r="24" fill="#fff"/>
<circle cx="2136.5" cy="1350" r="57" fill="#e67518"/>
<circle cx="2136.5" cy="1350" r="44" fill="#f29440"/>
<circle cx="2136.5" cy="1350" r="37" fill="#e87a1e"/>
<circle cx="2136.5" cy="1350" r="29" fill="#f7b06a"/>
<circle cx="2136.5" cy="1350" r="25" fill="#fff"/>
<circle cx="851" cy="1477.5" r="22" fill="#ee8a34"/><circle cx="851" cy="1477.5" r="16" fill="#6b4a3a"/><circle cx="857" cy="1479" r="10" fill="#a8a0a4"/>
<circle cx="1963" cy="1990" r="21" fill="#ee8a34"/><circle cx="1963" cy="1990" r="16" fill="#4d4a4c"/><circle cx="1960" cy="1986" r="7" fill="#8d8a8c"/>
<circle cx="1466.75" cy="1397.5" r="16" fill="#ec9a55" stroke="#e07a25" stroke-width="2"/>
<circle cx="1730.5" cy="1530" r="14" fill="#ec9a55" stroke="#e07a25" stroke-width="2"/>
<circle cx="1509" cy="1927.5" r="15" fill="#ec9a55" stroke="#e07a25" stroke-width="2"/>
<path d="M1145,1316 L1266,1590" stroke="#f6f1f1" stroke-width="15" fill="none"/>
<path d="M1145,1316 L1266,1590" stroke="#c9484a" stroke-width="15" fill="none" stroke-dasharray="2 9 1 14 3 8 1 11" opacity="0.4"/>
<path d="M1152,1313 L1273,1587" stroke="#b9a9a9" stroke-width="2" fill="none" opacity="0.7"/>
<linearGradient id="gFl" x1="0" y1="0" x2="1" y2="0"><stop offset="0" stop-color="#e67313"/><stop offset="0.5" stop-color="#f09a4c"/><stop offset="0.7" stop-color="#ea7d20"/><stop offset="1" stop-color="#e06c10"/></linearGradient>
<linearGradient id="gCy" x1="0" y1="0" x2="1" y2="0"><stop offset="0" stop-color="#e06a0e"/><stop offset="0.45" stop-color="#f4ad6a"/><stop offset="0.62" stop-color="#ee8a34"/><stop offset="1" stop-color="#e2700f"/></linearGradient>
<path d="M1038,1262 Q1036,1250 1050,1248 L1110,1242 L1165,1241 Q1190,1243 1192,1262 Q1192,1282 1170,1284 L1060,1284 Q1040,1282 1038,1262 Z" fill="url(#gFl)"/>
<path d="M1042,1270 Q1045,1284 1062,1285 L1170,1285 Q1188,1282 1191,1268 Q1186,1278 1168,1279 L1064,1279 Q1048,1278 1042,1270 Z" fill="#c95a08"/>
<path d="M1080,1281 L1180,1281 L1180,1300 Q1180,1321 1130,1321 Q1080,1321 1080,1300 Z" fill="url(#gCy)"/>
<path d="M1080,1300 Q1080,1321 1130,1321 Q1180,1321 1180,1300 Q1176,1314 1130,1315 Q1086,1314 1080,1300 Z" fill="#cf6009"/>
<g id="ann" stroke="#000" fill="#000" stroke-linecap="butt">
<line x1="1273" y1="760" x2="1273" y2="1701" stroke-width="8.5"/>
<line x1="1742" y1="760" x2="1742" y2="1701" stroke-width="8.5"/>
<line x1="1300" y1="783.5" x2="1715" y2="783.5" stroke-width="10"/>
<g stroke="none"><polygon points="1277.5,783.5 1320.5,768.0 1320.5,799.0"/><polygon points="1737.5,783.5 1694.5,799.0 1694.5,768.0"/></g>
<line x1="777.5" y1="1087" x2="777.5" y2="1329" stroke-width="8.5"/>
<line x1="909" y1="1087" x2="909" y2="1348" stroke-width="8.5"/>
<line x1="800" y1="1110.5" x2="885" y2="1110.5" stroke-width="10"/>
<g stroke="none"><polygon points="782.0,1110.5 823.0,1095.5 823.0,1125.5"/><polygon points="905.0,1110.5 864.0,1125.5 864.0,1095.5"/></g>
<line x1="477.7" y1="1210" x2="870" y2="1301.7" stroke-width="8"/>
<line x1="463.3" y1="1270" x2="855" y2="1361" stroke-width="8"/>
<line x1="505" y1="1205" x2="486" y2="1285" stroke-width="8"/>
<g stroke="none"><polygon points="503.9,1212 496.7,1166.8 527.1,1174.8"/><polygon points="486.5,1279.5 463.3,1316.1 493,1324"/></g>
<line x1="1345.3" y1="1593.6" x2="1403.7" y2="1718.8" stroke-width="8.5"/>
<line x1="1550.3" y1="1494" x2="1608.6" y2="1624.9" stroke-width="8.5"/>
<line x1="1381" y1="1598.7" x2="1533.5" y2="1527.7" stroke-width="9"/>
<g stroke="none"><polygon points="1358.9,1609.0 1391.3,1576.8 1404.4,1604.9"/><polygon points="1555.5,1517.5 1523.1,1549.7 1510.0,1521.6"/></g>
<line x1="1428" y1="1225" x2="2705" y2="1225" stroke-width="8"/>
<line x1="2002" y1="1221" x2="2375" y2="1221" stroke-width="8"/>
<line x1="1990" y1="2029" x2="2375" y2="2029" stroke-width="8"/>
<line x1="1419" y1="2161.5" x2="2705" y2="2161.5" stroke-width="8"/>
<line x1="2352" y1="1250" x2="2352" y2="2005" stroke-width="9"/>
<line x1="2681.5" y1="1250" x2="2681.5" y2="2137" stroke-width="9"/>
<g stroke="none"><polygon points="2352.0,1229.0 2368.0,1269.0 2336.0,1269.0"/><polygon points="2352.0,2025.0 2336.0,1983.0 2368.0,1983.0"/><polygon points="2681.5,1229.0 2697.5,1269.0 2665.5,1269.0"/><polygon points="2681.5,2157.5 2665.5,2115.5 2697.5,2115.5"/></g>
<line x1="829" y1="1966" x2="829" y2="2337" stroke-width="8"/>
<line x1="825" y1="1559" x2="825" y2="2497" stroke-width="8"/>
<line x1="2126" y1="1963" x2="2126" y2="2338" stroke-width="8.5"/>
<line x1="2219.5" y1="1504" x2="2219.5" y2="2498" stroke-width="8.5"/>
<line x1="860" y1="2316" x2="2095" y2="2316" stroke-width="10"/>
<line x1="860" y1="2471.3" x2="2190" y2="2471.3" stroke-width="10"/>
<g stroke="none"><polygon points="832.0,2316.0 875.0,2300.0 875.0,2332.0"/><polygon points="2122.0,2316.0 2079.0,2332.0 2079.0,2300.0"/><polygon points="829.0,2471.3 872.0,2455.3 872.0,2487.3"/><polygon points="2215.0,2471.3 2172.0,2487.3 2172.0,2455.3"/></g>
</g>
<g font-family="'Liberation Sans', Arial, sans-serif" font-size="60.5" fill="#000">
<text x="1505" y="761.7" text-anchor="middle" >62 mm</text>
<text x="842.5" y="1081" text-anchor="middle" >15 mm</text>
<text x="380.75" y="1259.6" text-anchor="middle" >8 mm</text>
<text x="2479.5" y="1638.5" text-anchor="middle" >115 mm</text>
<text x="2806" y="1707.5" text-anchor="middle" >125 mm</text>
<text x="1476.5" y="2385.7" text-anchor="middle" >170 mm</text>
<text x="1521.7" y="2542.8" text-anchor="middle" >182 mm</text>
<text x="1446.4" y="1544" text-anchor="middle" transform="rotate(-23 1446.4 1544)">30 mm</text>
</g>
</svg>
</body></html>
